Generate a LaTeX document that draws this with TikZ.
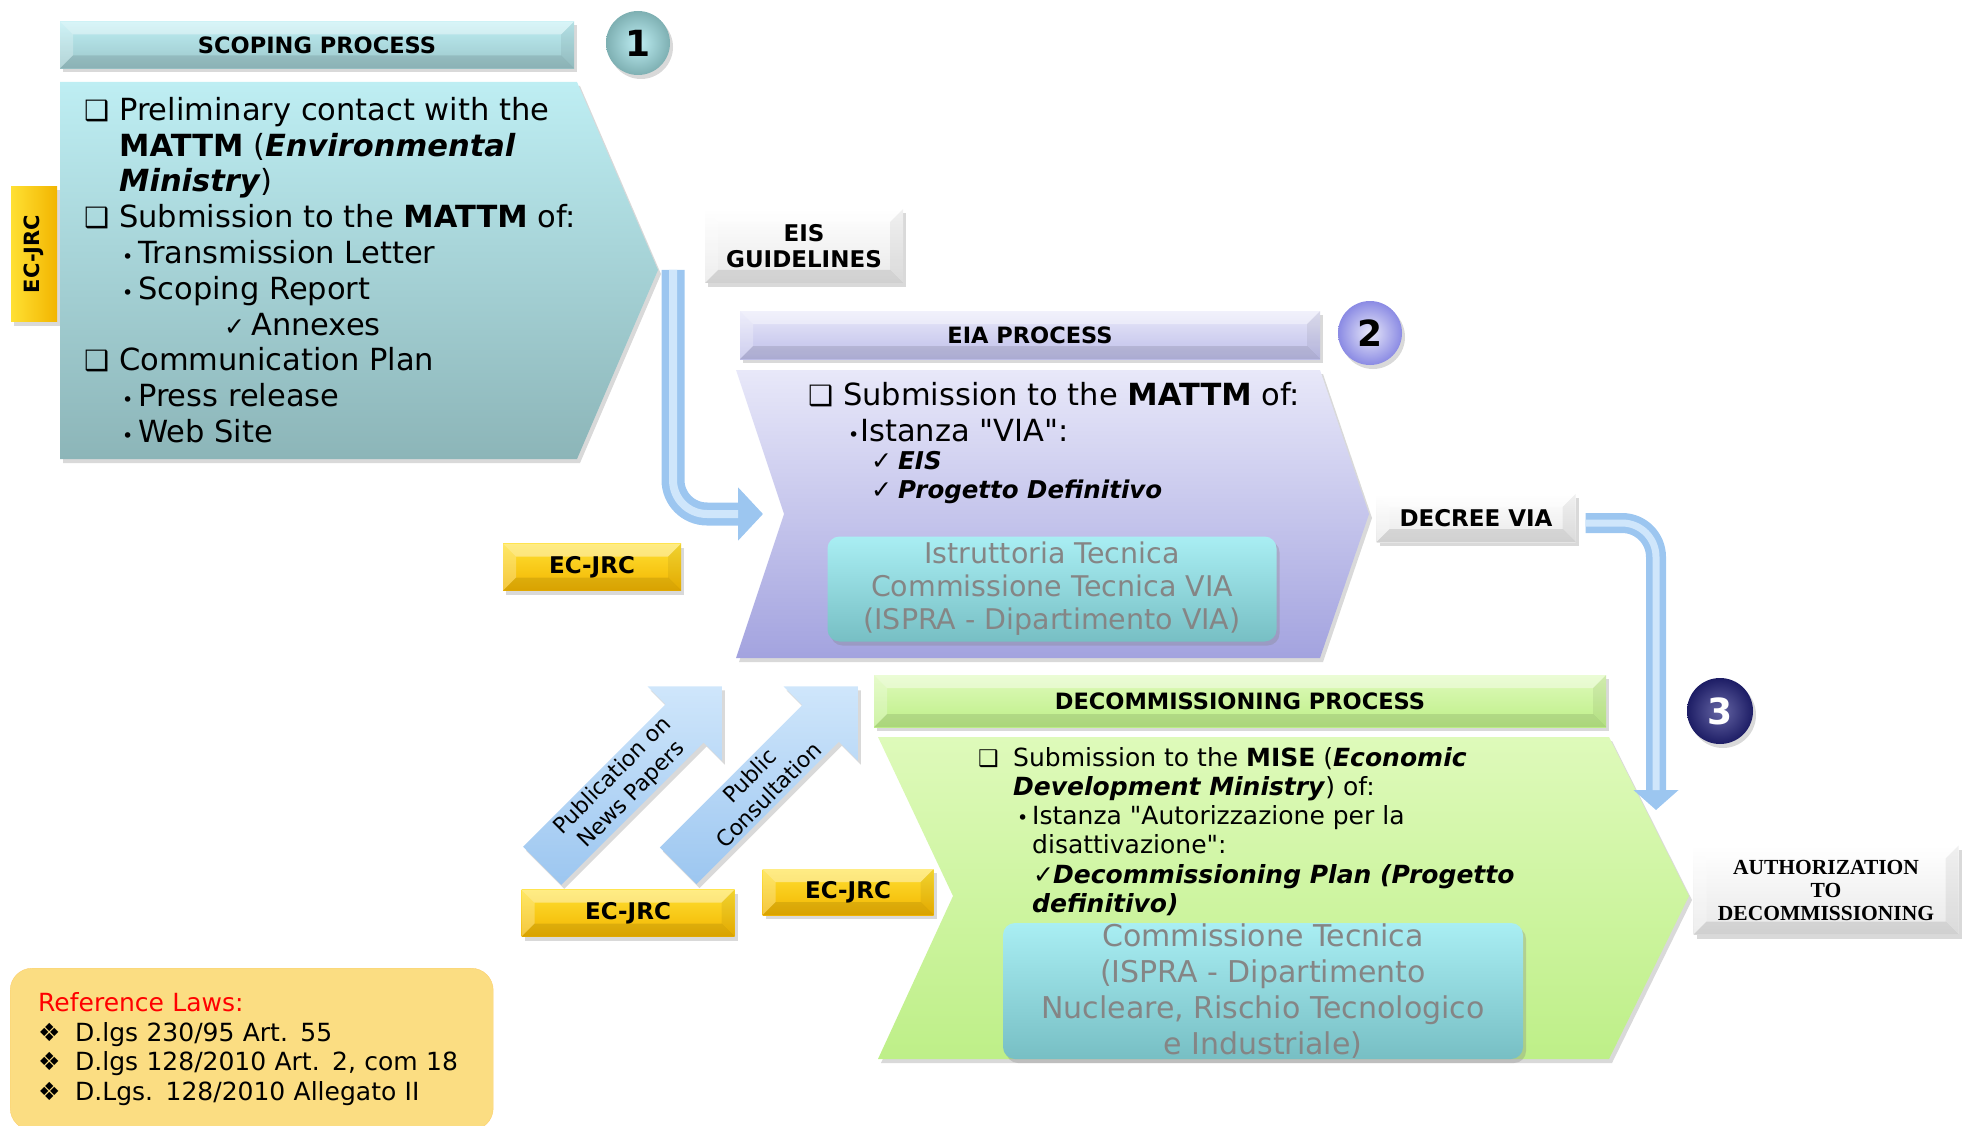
\documentclass[tikz,border=0pt]{standalone}
\usepackage{fontspec}
\usepackage{graphicx}
\setmainfont{DejaVu Sans}
\newfontfamily\conserifas{Liberation Serif}
\usetikzlibrary{arrows.meta,shapes.arrows,shadows}

\definecolor{tealClaro}{HTML}{BEEEF3}
\definecolor{tealOscuro}{HTML}{8CB5B8}
\definecolor{lilaClaro}{HTML}{E8E8F9}
\definecolor{lilaOscuro}{HTML}{A3A3DF}
\definecolor{verdeClaro}{HTML}{DEFABA}
\definecolor{verdeOscuro}{HTML}{BEEF88}
\definecolor{amarilloClaro}{HTML}{FFE033}
\definecolor{amarilloOscuro}{HTML}{F2B500}
\definecolor{azulFlecha}{HTML}{9CC6F0}
\definecolor{azulBrillo}{HTML}{CFE6FB}
\definecolor{turquesa}{HTML}{77BFC4}
\definecolor{turquesaClaro}{HTML}{A9EEF3}
\definecolor{grisTexto}{HTML}{858585}
\definecolor{crema}{HTML}{FBDD82}
\definecolor{marino}{HTML}{24247E}

% Facetas de bisel dentro de una caja
\newcommand{\biselado}[1]{%
  \fill[white,opacity=.4] (path picture bounding box.north west) -- (path picture bounding box.north east)
    -- ([xshift=-#1,yshift=-#1]path picture bounding box.north east)
    -- ([xshift=#1,yshift=-#1]path picture bounding box.north west) -- cycle;
  \fill[white,opacity=.25] (path picture bounding box.north west) -- (path picture bounding box.south west)
    -- ([xshift=#1,yshift=#1]path picture bounding box.south west)
    -- ([xshift=#1,yshift=-#1]path picture bounding box.north west) -- cycle;
  \fill[black,opacity=.06] (path picture bounding box.north east) -- (path picture bounding box.south east)
    -- ([xshift=-#1,yshift=#1]path picture bounding box.south east)
    -- ([xshift=-#1,yshift=-#1]path picture bounding box.north east) -- cycle;
  \fill[black,opacity=.1] (path picture bounding box.south west) -- (path picture bounding box.south east)
    -- ([xshift=-#1,yshift=#1]path picture bounding box.south east)
    -- ([xshift=#1,yshift=#1]path picture bounding box.south west) -- cycle;
}
\newcommand{\caja}[1][28]{\makebox[35pt][l]{\fontsize{#1}{#1}\selectfont ❑}}
\newcommand{\punto}[2][38pt]{\hspace*{#1}\makebox[#2][l]{\fontsize{19}{19}\selectfont •}}
\newcommand{\visto}[2][0pt]{\hspace*{#1}\makebox[#2][l]{\fontsize{25}{25}\selectfont ✓}}

\tikzset{
  sombra/.style={drop shadow={opacity=.3,shadow xshift=3pt,shadow yshift=-4pt}},
  bisel/.style={path picture={\biselado{13pt}}},
  cabecera/.style={bisel, sombra, inner sep=0pt, font=\bfseries\fontsize{22.5}{22.5}\selectfont},
  amarilla/.style={top color=amarilloClaro, bottom color=amarilloOscuro, sombra, inner sep=0pt,
    font=\bfseries\fontsize{23}{23}\selectfont},
  blanca/.style={top color=white, bottom color=gray!18, bisel, sombra, inner sep=0pt, align=center,
    font=\bfseries\fontsize{23}{26}\selectfont},
  numero/.style={circle, minimum size=64pt, inner sep=0pt, sombra, font=\bfseries\fontsize{36}{36}\selectfont},
  texto/.style={inner sep=0pt, align=left, font=\fontsize{30.5}{35.8}\selectfont},
  interior/.style={rounded corners=12pt, top color=turquesaClaro, bottom color=turquesa, text=grisTexto,
    align=center, inner sep=0pt, sombra},
  diagonal/.style={single arrow, single arrow tip angle=90, single arrow head extend=25pt,
    minimum height=254pt, minimum width=105pt, rotate=45, top color=azulBrillo, bottom color=azulFlecha,
    inner sep=2pt, align=center, sombra, font=\fontsize{22}{27}\selectfont},
  flechaAzul/.style n args={3}{draw=azulFlecha, line width=#1, rounded corners=34pt,
    -{Triangle[width=#2,length=#3]}},
  brilloAzul/.style n args={2}{draw=azulBrillo, line width=#1, rounded corners=34pt, shorten >=#2}
}

\begin{document}
\begin{tikzpicture}[x=1pt,y=-1pt]
  \useasboundingbox (0,0) rectangle (1966,1126);

  % Fase 1: scoping
  \node[cabecera, top color=tealClaro, bottom color=tealOscuro!70!tealClaro, minimum width=514pt,
    minimum height=47pt] (scopHead) at (317,45) {SCOPING PROCESS};
  \node[numero, inner color=tealClaro, outer color=tealOscuro!90!teal] (num1) at (638,43) {1};
  \path[sombra, top color=tealClaro, bottom color=tealOscuro] (60,82) -- (577,82)
    -- (658,270) coordinate (scopTip) -- (577,459) -- (60,459) -- cycle;
  \node[texto, anchor=north west] (scopText) at (84,97) {%
    \caja Preliminary contact with the\\
    \hspace*{35pt}\textbf{MATTM} (\textbf{\textit{Environmental}}\\
    \hspace*{35pt}\textbf{\textit{Ministry}})\\
    \caja Submission to the \textbf{MATTM} of:\\
    \punto{16pt}Transmission Letter\\
    \punto{16pt}Scoping Report\\
    \visto[140pt]{27pt}Annexes\\
    \caja Communication Plan\\
    \punto{16pt}Press release\\
    \punto{16pt}Web Site};
  \node[amarilla, left color=amarilloClaro, right color=amarilloOscuro, rotate=90, minimum width=135pt,
    minimum height=46pt, font=\bfseries\fontsize{21}{21}\selectfont] (jrcScop) at (34,254) {EC-JRC};

  % Fase 2: EIA
  \node[blanca, minimum width=198pt, minimum height=74pt] (eisGuide) at (804,246) {EIS\\GUIDELINES};
  \node[cabecera, top color=lilaClaro, bottom color=lilaOscuro!60!lilaClaro, minimum width=580pt,
    minimum height=48pt] (eiaHead) at (1030,335) {EIA PROCESS};
  \node[numero, inner color=lilaClaro, outer color=lilaOscuro!85!blue] (num2) at (1370,333) {2};
  \path[sombra, top color=lilaClaro, bottom color=lilaOscuro] (736,370) -- (1320,370)
    -- (1369,514) coordinate (eiaTip) -- (1320,658) -- (736,658)
    -- (784,514) coordinate (eiaNotch) -- cycle;
  \node[texto, anchor=north west] (eiaText) at (808,382) {%
    \caja Submission to the \textbf{MATTM} of:\\
    \punto[40pt]{12pt}Istanza \textquotedbl VIA\textquotedbl:};
  \node[texto, anchor=north west, font=\fontsize{24.5}{29}\selectfont] (eiaDocs) at (871,451) {%
    \visto{27pt}\textbf{\textit{EIS}}\\
    \visto{27pt}\textbf{\textit{Progetto Definitivo}}};
  \node[interior, minimum width=449pt, minimum height=105pt, font=\fontsize{28.5}{33}\selectfont]
    (istruttoria) at (1052,589) {Istruttoria Tecnica\\Commissione Tecnica VIA\\(ISPRA - Dipartimento VIA)};
  \node[amarilla, bisel, minimum width=178pt, minimum height=47pt] (jrcEia) at (592,567) {EC-JRC};
  \node[blanca, minimum width=199pt, minimum height=48pt] (decree) at (1476,518) {DECREE VIA};

  % Fase 3: decommissioning
  \node[cabecera, top color=verdeClaro, bottom color=verdeOscuro, minimum width=732pt,
    minimum height=52pt] (decomHead) at (1240,701) {DECOMMISSIONING PROCESS};
  \node[numero, inner color=marino!70!white, outer color=marino!80!black, text=white,
    minimum size=66pt] (num3) at (1720,711) {3};
  \path[sombra, top color=verdeClaro, bottom color=verdeOscuro] (878,737) -- (1609,737)
    -- (1689,896) coordinate (decomTip) -- (1609,1059) -- (878,1059)
    -- (953,896) coordinate (decomNotch) -- cycle;
  \coordinate (decomEdge) at (1656,810);
  \node[texto, anchor=north west, font=\fontsize{25}{29.2}\selectfont] (decomText) at (978,747) {%
    \caja[23]Submission to the \textbf{MISE} (\textbf{\textit{Economic}}\\
    \hspace*{35pt}\textbf{\textit{Development Ministry}}) of:\\
    \punto[39pt]{15pt}Istanza \textquotedbl Autorizzazione per la\\
    \hspace*{54pt}disattivazione\textquotedbl:\\
    \visto[55pt]{20pt}\textbf{\textit{Decommissioning Plan (Progetto}}\\
    \hspace*{54pt}\textbf{\textit{definitivo)}}};
  \node[interior, minimum width=520pt, minimum height=136pt, font=\fontsize{30}{36}\selectfont]
    (commissione) at (1263,991) {Commissione Tecnica\\(ISPRA - Dipartimento\\Nucleare, Rischio Tecnologico\\e Industriale)};
  \node[blanca, minimum width=265pt, minimum height=89pt, font=\conserifas\bfseries\fontsize{21.5}{23}\selectfont]
    (autoriz) at (1826,890) {AUTHORIZATION\\TO\\DECOMMISSIONING};

  % Publicacion y consulta
  \node[diagonal, anchor=tail] (pubArrow) at (542,866) {Publication on\\News Papers};
  \node[diagonal, anchor=tail] (consArrow) at (678,866) {Public\\Consultation};
  \node[amarilla, bisel, minimum width=213pt, minimum height=47pt] (jrcPub) at (628,913) {EC-JRC};
  \node[amarilla, bisel, minimum width=171pt, minimum height=46pt] (jrcCons) at (848,892) {EC-JRC};

  % Leyes de referencia
  \node[anchor=north west, rounded corners=22pt, fill=crema, draw=crema!85!orange, align=left,
    text width=427pt, inner xsep=28pt, minimum height=162pt, font=\fontsize{25}{29.5}\selectfont]
    (leyes) at (10,968) {\textcolor{red}{Reference Laws:}\\
    \makebox[37pt][l]{❖}D.lgs 230/95 Art. 55\\
    \makebox[37pt][l]{❖}D.lgs 128/2010 Art. 2, com 18\\
    \makebox[37pt][l]{❖}D.Lgs. 128/2010 Allegato II};

  % Flechas de paso entre fases
  \draw[flechaAzul={23pt}{52pt}{25pt}] ([xshift=15pt]scopTip) |- ([xshift=-21pt]eiaNotch);
  \draw[brilloAzul={8pt}{25pt}] ([xshift=15pt]scopTip) |- ([xshift=-21pt]eiaNotch);
  \draw[flechaAzul={20pt}{44pt}{20pt}] ([xshift=10pt,yshift=-5pt]decree.east) -| (decomEdge);
  \draw[brilloAzul={7pt}{20pt}] ([xshift=10pt,yshift=-5pt]decree.east) -| (decomEdge);
\end{tikzpicture}
\end{document}
